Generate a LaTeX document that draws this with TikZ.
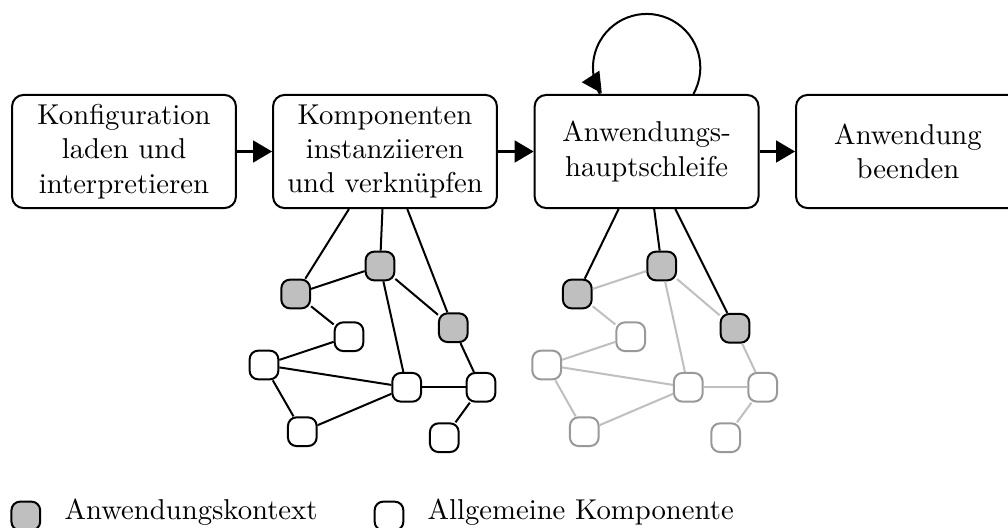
\documentclass[tikz,border=0pt]{standalone}
\usepackage{fontspec}
\usetikzlibrary{arrows.meta}

\tikzset{
  stepbox/.style={draw, line width=0.7pt, rounded corners=4pt, fill=white,
    minimum width=78pt, minimum height=39.4pt, inner sep=0pt, align=center},
  flow/.style={line width=0.7pt, -{Triangle[length=6.6pt,width=7.6pt]}},
  ctx/.style={draw, line width=0.7pt, fill=black!25, rounded corners=3pt,
    minimum size=10pt, inner sep=0pt},
  comp/.style={draw, line width=0.7pt, fill=white, rounded corners=3pt,
    minimum size=10pt, inner sep=0pt},
  compfaded/.style={comp, draw=black!40},
  link/.style={line width=0.7pt},
  linkfaded/.style={line width=0.7pt, draw=black!25},
  legendtext/.style={anchor=base west, inner sep=0pt}
}

\begin{document}
\begin{tikzpicture}[x=0.3484pt, y=-0.3484pt]
\useasboundingbox (0,0) rectangle (1008,528);

% process steps
\node[stepbox] (load) at (124,151.5) {Konfiguration\\laden und\\interpretieren};
\node[stepbox] (inst) at (385,151.5) {Komponenten\\instanziieren\\und verknüpfen};
\node[stepbox] (main) at (646.6,151.5) {Anwendungs-\\hauptschleife};
\node[stepbox] (quit) at (908,151.5) {Anwendung\\beenden};

\draw[flow] (load) -- (inst);
\draw[flow] (inst) -- (main);
\draw[flow] (main) -- (quit);

% main loop
\draw[link] (main.north) ++(46.8,0) arc[start angle=-29.4, end angle=209.4, radius=18.7pt] coordinate (loopend);
\fill (loopend) ++(-18.1,-11.7) -- ++(17.6,-11.6) -- ++(2.4,22.6) -- cycle;

% component graph while wiring
\node[ctx]  (a1) at (295.7,294) {};
\node[ctx]  (b1) at (380,266) {};
\node[ctx]  (c1) at (453.3,327.7) {};
\node[comp] (d1) at (349,336.7) {};
\node[comp] (e1) at (264,365) {};
\node[comp] (f1) at (406.7,387.3) {};
\node[comp] (g1) at (481,387.3) {};
\node[comp] (h1) at (302.3,431.7) {};
\node[comp] (i1) at (444.3,437.7) {};

\draw[link] (inst) -- (a1);
\draw[link] (inst) -- (b1);
\draw[link] (inst) -- (c1);
\draw[link] (a1) -- (b1);
\draw[link] (a1) -- (d1);
\draw[link] (b1) -- (c1);
\draw[link] (b1) -- (f1);
\draw[link] (c1) -- (g1);
\draw[link] (d1) -- (e1);
\draw[link] (e1) -- (f1);
\draw[link] (e1) -- (h1);
\draw[link] (h1) -- (f1);
\draw[link] (f1) -- (g1);
\draw[link] (g1) -- (i1);

% component graph during the main loop
\node[ctx]       (a2) at (577.3,294) {};
\node[ctx]       (b2) at (661.7,266) {};
\node[ctx]       (c2) at (735,328.3) {};
\node[compfaded] (d2) at (630.7,336.7) {};
\node[compfaded] (e2) at (546.7,365) {};
\node[compfaded] (f2) at (688.3,387.3) {};
\node[compfaded] (g2) at (762.7,387.3) {};
\node[compfaded] (h2) at (584.3,431.7) {};
\node[compfaded] (i2) at (725.7,437.7) {};

\draw[link] (main) -- (a2);
\draw[link] (main) -- (b2);
\draw[link] (main) -- (c2);
\draw[linkfaded] (a2) -- (b2);
\draw[linkfaded] (a2) -- (d2);
\draw[linkfaded] (b2) -- (c2);
\draw[linkfaded] (b2) -- (f2);
\draw[linkfaded] (c2) -- (g2);
\draw[linkfaded] (d2) -- (e2);
\draw[linkfaded] (e2) -- (f2);
\draw[linkfaded] (e2) -- (h2);
\draw[linkfaded] (h2) -- (f2);
\draw[linkfaded] (f2) -- (g2);
\draw[linkfaded] (g2) -- (i2);

% legend
\node[ctx]  (lgctx)  at (25.8,516) {};
\node[legendtext] (lgctxt) at (64,519.5) {Anwendungskontext};
\node[comp] (lgcomp) at (389,516) {};
\node[legendtext] (lgcompt) at (427,519.5) {Allgemeine Komponente};
\end{tikzpicture}
\end{document}
